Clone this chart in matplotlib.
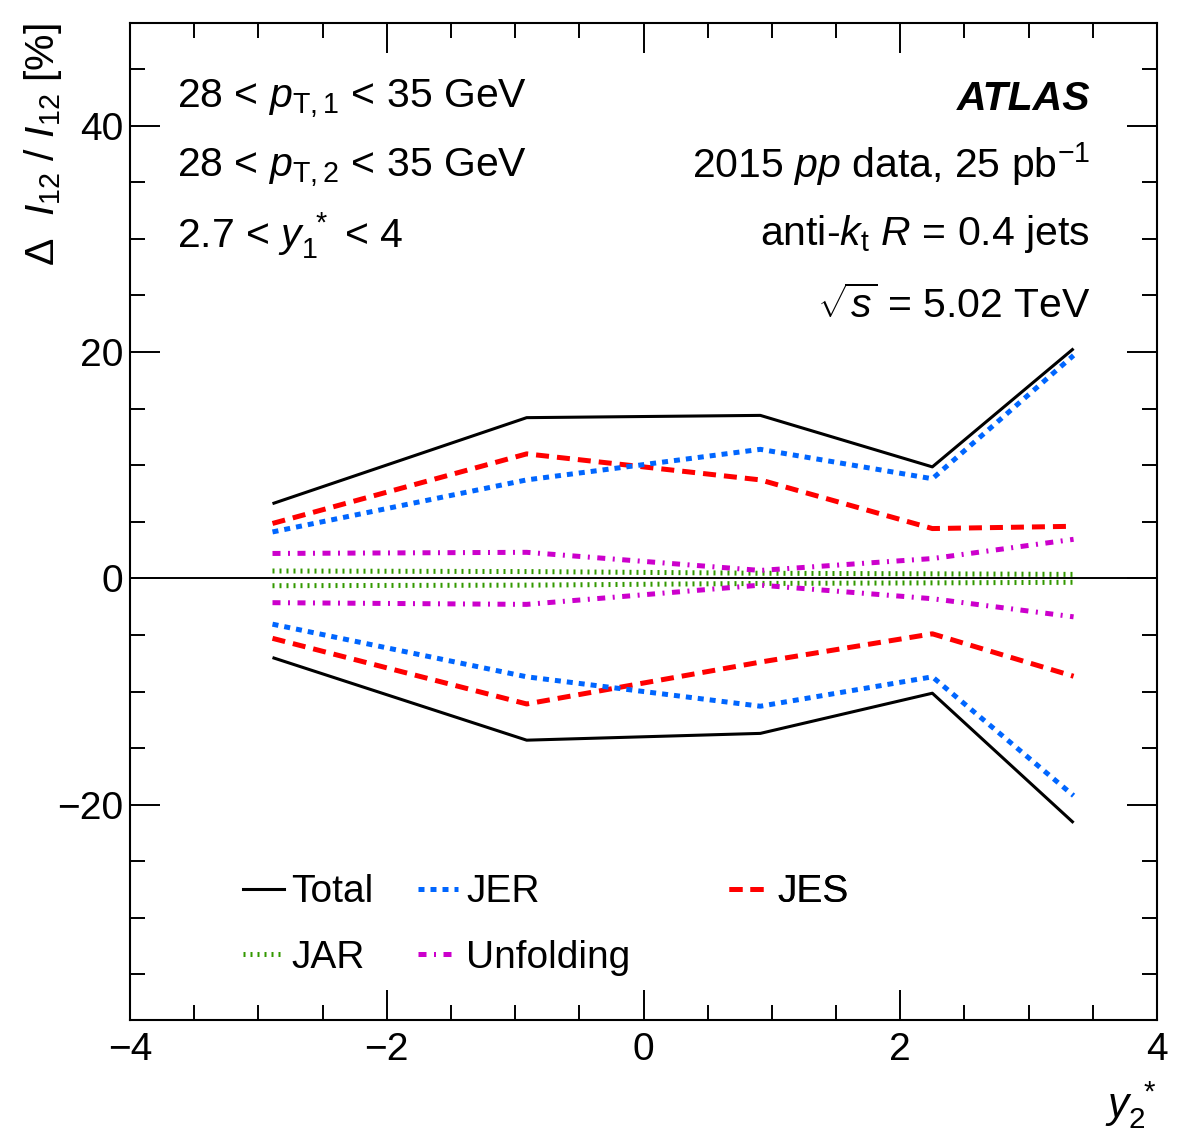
import matplotlib
matplotlib.use("Agg")
import matplotlib.pyplot as plt
from matplotlib.lines import Line2D
from matplotlib.ticker import MultipleLocator

plt.rcParams['font.family'] = ['Liberation Sans', 'DejaVu Sans']
plt.rcParams['mathtext.fontset'] = 'custom'
plt.rcParams['mathtext.rm'] = 'Liberation Sans'
plt.rcParams['mathtext.it'] = 'Liberation Sans:italic'
plt.rcParams['mathtext.bf'] = 'Liberation Sans:bold'

# ---- data ----
y2_star = [-2.89, -0.91, 0.91, 2.25, 3.35]
total_up = [6.6, 14.2, 14.4, 9.85, 20.3]
total_dn = [-7.0, -14.3, -13.7, -10.15, -21.6]
jer_up = [4.1, 8.7, 11.4, 8.8, 19.7]
jer_dn = [-4.05, -8.7, -11.3, -8.7, -19.2]
jes_up = [4.85, 11.0, 8.7, 4.4, 4.6]
jes_dn = [-5.3, -11.1, -7.4, -4.9, -8.65]
jar_up = [0.65, 0.6, 0.45, 0.4, 0.35]
jar_dn = [-0.65, -0.6, -0.45, -0.4, -0.35]
unf_up = [2.2, 2.3, 0.7, 1.75, 3.45]
unf_dn = [-2.15, -2.3, -0.6, -1.8, -3.4]

labels = ["Total", "JER", "JES", "JAR", "Unfolding"]
colors = {"Total": "black", "JER": "#0066ff", "JES": "#ff0000",
          "JAR": "#339900", "Unfolding": "#cc00cc"}

styles = {
    "Total": dict(lw=2.2, linestyle='-'),
    "JER": dict(lw=3.6, linestyle=(0, (1.2, 1.2))),
    "JES": dict(lw=3.6, linestyle=(0, (2.6, 1.6))),
    "JAR": dict(lw=3.6, linestyle=(0, (0.4, 1.0))),
    "Unfolding": dict(lw=3.6, linestyle=(0, (1.6, 1.5, 0.4, 1.5))),
}

FS = 28
TFS = 29.5

fig = plt.figure(figsize=(11.82, 11.46), dpi=100)
ax = fig.add_axes([130/1182, 1 - 1019.7/1146, (1157-130)/1182, (1019.7-22.7)/1146])

ax.axhline(0, color='black', lw=1.4, zorder=1)

series = {
    "Total": (total_up, total_dn),
    "JER": (jer_up, jer_dn),
    "JES": (jes_up, jes_dn),
    "JAR": (jar_up, jar_dn),
    "Unfolding": (unf_up, unf_dn),
}
for name in ["JAR", "Unfolding", "JES", "JER", "Total"]:
    up, dn = series[name]
    for vals in (up, dn):
        ax.plot(y2_star, vals, color=colors[name], solid_capstyle='butt',
                dash_capstyle='butt', zorder=3, **styles[name])

ax.set_xlim(-4, 4)
ax.set_ylim(-39.0, 49.1)
ax.xaxis.set_major_locator(MultipleLocator(2))
ax.xaxis.set_minor_locator(MultipleLocator(0.5))
ax.yaxis.set_major_locator(MultipleLocator(20))
ax.yaxis.set_minor_locator(MultipleLocator(5))
ax.tick_params(which='both', direction='in', top=True, right=True, width=1.4)
ax.tick_params(which='major', length=21.6, labelsize=FS)
ax.tick_params(axis='x', which='major', pad=9)
ax.tick_params(axis='y', which='major', pad=5)
ax.tick_params(which='minor', length=10.8)
for sp in ax.spines.values():
    sp.set_linewidth(1.5)

ax.set_ylabel(r"$\Delta$  $I_{12}$ / $I_{12}$ [%]", fontsize=TFS, loc='top')
ax.yaxis.set_label_coords(-0.064, 1.0)
ax.set_xlabel(r"$y_{2}^{\ *}$", fontsize=TFS + 1, loc='right')
ax.xaxis.set_label_coords(1.0, -0.06)

# left text block
ax.text(0.046, 0.914, r"28 < $p_{\mathrm{T},1}$ < 35 GeV", transform=ax.transAxes,
        fontsize=TFS, ha='left', va='baseline')
ax.text(0.046, 0.845, r"28 < $p_{\mathrm{T},2}$ < 35 GeV", transform=ax.transAxes,
        fontsize=TFS, ha='left', va='baseline')
ax.text(0.046, 0.774, r"2.7 < $y_{1}^{\ *}$ < 4", transform=ax.transAxes,
        fontsize=TFS, ha='left', va='baseline')

# right text block
ax.text(0.935, 0.912, "ATLAS", transform=ax.transAxes, fontsize=TFS,
        fontweight='bold', fontstyle='italic', ha='right', va='baseline')
ax.text(0.935, 0.845, r"2015 $pp$ data, 25 pb$^{\mathrm{-1}}$", transform=ax.transAxes,
        fontsize=TFS, ha='right', va='baseline')
ax.text(0.935, 0.777, r"anti-$k_{\mathrm{t}}$ $R$ = 0.4 jets", transform=ax.transAxes,
        fontsize=TFS, ha='right', va='baseline')
ax.text(0.935, 0.704, r"$\sqrt{s}$ = 5.02 TeV", transform=ax.transAxes,
        fontsize=TFS, ha='right', va='baseline')

# legends, one per column
def handle(name):
    return Line2D([], [], color=colors[name], **styles[name])

cols = [(["Total", "JAR"], 0.110), (["JER", "Unfolding"], 0.280), (["JES"], 0.583)]
for names, xa in cols:
    leg = ax.legend([handle(n) for n in names], names, loc='upper left',
                    bbox_to_anchor=(xa, 0.146), frameon=False, fontsize=FS,
                    handlelength=1.05, handletextpad=0.2, labelspacing=0.76,
                    borderpad=0, borderaxespad=0)
    ax.add_artist(leg)

fig.savefig("out.png", dpi=100)
